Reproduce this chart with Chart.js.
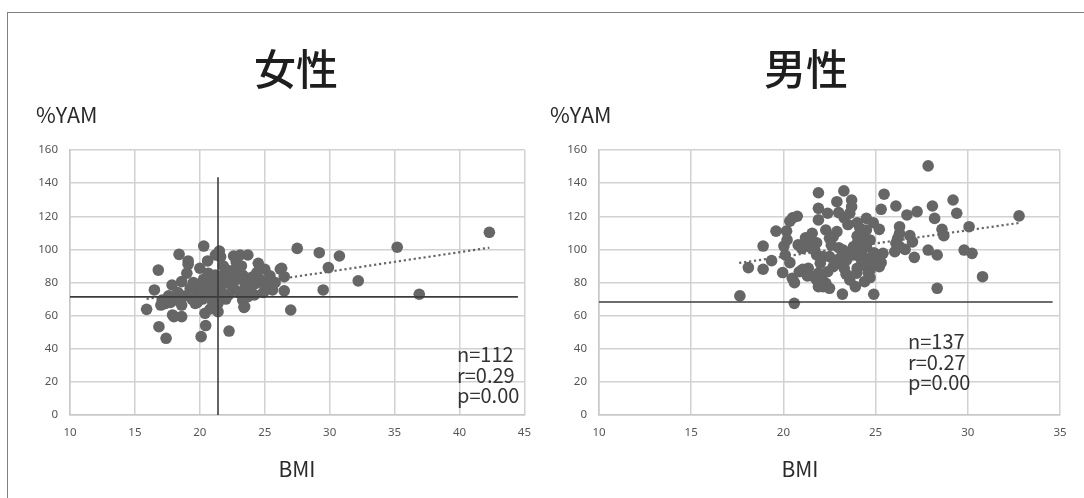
<!DOCTYPE html>
<html>
<head>
<meta charset="utf-8">
<script src="https://cdn.jsdelivr.net/npm/chart.js@4/dist/chart.umd.min.js"></script>
<style>
  body { margin: 0; background: #fff; font-family: "Noto Sans CJK JP", "Noto Sans", sans-serif; color: #222; }
  #page { position: relative; width: 1084px; height: 498px; overflow: hidden; }
  #frame { position: absolute; left: 7px; top: 12px; right: -10px; bottom: -10px; border-top: 1.5px solid #808080; border-left: 1.5px solid #808080; }
  canvas { position: absolute; top: 0; }
  .lbl { position: absolute; white-space: nowrap; }
  .title { font-size: 42px; font-weight: 500; top: 36px; transform: translateX(-50%); color: #1e1e1e; }
  .yam { font-size: 21.5px; top: 98px; color: #2a2a2a; }
  .bmi { font-size: 21px; top: 453px; transform: translateX(-50%); color: #2a2a2a; }
  .stats { font-size: 20px; line-height: 20.5px; color: #333; }
</style>
</head>
<body>
<div id="page">
  <div id="frame"></div>
  <canvas id="womenChart" width="542" height="498" style="left:0"></canvas>
  <canvas id="menChart" width="542" height="498" style="left:542px"></canvas>
  <div class="lbl title" style="left:296px">女性</div>
  <div class="lbl title" style="left:806px">男性</div>
  <div class="lbl yam" style="left:36px">%YAM</div>
  <div class="lbl yam" style="left:550px">%YAM</div>
  <div class="lbl bmi" style="left:297px">BMI</div>
  <div class="lbl bmi" style="left:800px">BMI</div>
  <div class="lbl stats" style="left:457px; top:344px">n=112<br>r=0.29<br>p=0.00</div>
  <div class="lbl stats" style="left:908px; top:331px">n=137<br>r=0.27<br>p=0.00</div>
</div>
<script>
// 女性: [BMI, %YAM]
const womenPoints = [
  [20.3,102],[18.4,97],[19.1,93],[19.1,91],[16.8,87.5],[21.2,96.6],[21.5,99],[21.6,95.5],[20.6,93],[22.6,96],
  [23.1,96.6],[23.7,96.6],[22.8,92.6],[24.5,91.6],[25.0,88],[26.2,88],[27.5,100.6],[29.2,98],[29.9,89],[29.5,75.5],
  [27.0,63.4],[26.5,75],[20.0,88.6],[19.0,85.6],[16.5,75.5],[15.9,63.8],[16.85,53.3],[17.4,46.3],[20.1,47.3],[20.45,54],
  [22.25,50.7],[17.9,60.4],[18.0,59.4],[20.4,61.4],[21.3,63.4],[23.4,65],[17.86,78.5],[18.6,80.5],[19.26,76.5],[17.1,69.4],
  [17.36,67.4],[17.74,68],[18.24,69.4],[18.6,66.4],[19.64,67.4],[19.9,73.5],[20.4,75.5],[20.65,78.5],[21.0,81.5],[20.9,71.4],
  [21.4,67.4],[21.9,85.6],[22.2,82.5],[22.4,78.5],[22.7,75.5],[23.07,73.5],[23.3,84.5],[23.7,82.5],[24.1,83.5],[24.3,79.5],
  [24.7,81.5],[25.0,78.5],[25.2,80.5],[25.6,75.5],[23.3,69.4],[23.7,71.4],[24.2,72.5],[23.45,65.4],[22.2,72.5],[21.67,78.5],
  [22.3,86.5],[20.65,85.6],[21.2,84.5],[19.9,75.5],[20.0,78.5],[18.6,59.4],[17.0,66.4],[21.4,62.4],[20.8,64],[30.75,96],
  [32.2,81],[35.2,101.3],[42.3,110.3],[36.9,72.9],[26.5,83.5],[26.3,88.6],[22.0,88],[18.9,72],[19.4,70],[19.8,68],
  [20.2,70],[20.6,73],[21.0,68],[21.1,75],[21.7,74],[22.0,70],[22.5,80],[22.9,82],[23.5,78],[23.9,76],
  [24.4,86],[24.9,74],[21.5,80],[20.3,82],[19.5,80],[18.3,74],[17.6,72],[21.8,90],[22.7,88],[23.2,90],
  [25.4,84],[25.8,80]
];
// 男性: [BMI, %YAM]
const menPoints = [
  [17.64,71.9],[18.1,89],[18.9,88],[18.9,102],[19.36,93.2],[19.6,111],[19.96,86],[20.03,102],[20.17,111],[20.2,105.7],
  [20.35,117],[20.5,119],[20.75,120],[20.1,96.6],[20.35,92],[20.8,102.7],[20.48,82.5],[20.6,79.9],[20.86,86.5],[20.59,67.4],
  [21.56,109.7],[21.35,88.6],[21.65,83.5],[21.8,81.5],[21.9,134.2],[21.9,124.8],[21.9,117.8],[21.7,99.6],[21.8,96.6],[23.28,135.3],
  [25.46,133.3],[22.9,128.8],[23.7,129.8],[23.7,125.8],[23.6,121.8],[23.0,122.2],[22.4,121.8],[25.3,124.2],[26.1,126.2],[26.7,120.8],
  [27.25,122.8],[28.08,126.2],[29.2,129.8],[29.4,121.8],[28.2,118.7],[28.6,112.1],[28.7,108.3],[30.07,113.7],[32.78,120.2],[29.8,99.6],
  [30.23,97.6],[27.85,99.6],[28.34,96.6],[27.1,95.2],[30.8,83.5],[28.34,76.5],[24.9,72.9],[23.2,73],[27.85,150.4],[26.3,113.7],
  [26.3,109.7],[26.2,106.7],[26.1,103.7],[26.04,98.6],[26.3,101.6],[26.6,100],[26.86,108.3],[27.0,104.5],[24.5,118.7],[24.87,116.1],
  [25.2,112.1],[24.5,111.7],[24.15,112.7],[25.4,97.6],[25.2,89.6],[25.05,94.6],[24.8,95.6],[24.4,80.5],[23.9,77.5],[23.6,81.5],
  [23.97,85.6],[21.0,100.5],[21.05,88],[21.2,107],[21.5,101],[22.0,81.5],[22.15,77.5],[22.3,79.5],[21.9,85.6],[21.3,84],
  [22.7,107.7],[22.9,110.7],[23.24,99.6],[23.43,93.6],[23.8,101.6],[23.8,96.6],[24.24,97.6],[24.24,90.6],[24.5,93.6],[24.7,87.5],
  [25.3,92],[23.06,91.6],[22.7,89.6],[22.15,95.6],[22.0,91.6],[22.3,111.7],[22.5,106.7],[23.3,119],[23.5,115],[24.0,116],
  [22.5,95.6],[22.8,92.6],[23.06,94.6],[23.3,88.5],[23.4,85],[23.65,97.5],[23.2,96],[23.0,101],[22.6,102.5],[22.1,84.5],
  [22.4,86.5],[21.35,105.7],[21.8,104],[24.0,108],[24.4,106],[24.0,103.7],[24.5,101.6],[24.7,105.7],[24.9,98],[25.0,91],
  [24.2,94.5],[24.0,88.5],[24.6,86],[22.5,76.5],[21.9,77.5],[24.7,83]
];

// regression lines (dotted)
const womenTrend = [[15.9,70.1],[42.3,101.0]];
const menTrend = [[17.6,91.8],[32.8,116.0]];

// reference lines
const womenRefYam = [[10,71.3],[44.5,71.3]];
const womenRefBmi = [[21.4,0],[21.4,143.5]];
const menRefYam = [[10,68.2],[34.6,68.2]];

const xTicksWomen = [10, 45];
const xTicksMen = [10, 35];
const yTicks = [0, 160];

function toXY(arr) {
  return arr.map(p => ({ x: p[0], y: p[1] }));
}

function lineSet(arr, dashed) {
  return {
    type: 'line',
    data: toXY(arr),
    borderColor: dashed ? '#666' : '#3c3c3c',
    borderWidth: dashed ? 2.2 : 1.6,
    borderDash: dashed ? [2.2, 2.8] : [],
    pointRadius: 0,
    fill: false,
    showLine: true
  };
}

function makeChart(id, points, lines, xRange, padLeft, padRight) {
  const ctx = document.getElementById(id).getContext('2d');
  const datasets = lines.concat([{
    type: 'scatter',
    data: toXY(points),
    backgroundColor: '#666666',
    borderColor: '#666666',
    borderWidth: 0,
    pointRadius: 5.8
  }]);
  return new Chart(ctx, {
    type: 'scatter',
    data: { datasets: datasets },
    options: {
      responsive: false,
      animation: false,
      layout: { padding: { left: padLeft, right: padRight, top: 150, bottom: 53 } },
      plugins: { legend: { display: false }, tooltip: { enabled: false } },
      scales: {
        x: {
          type: 'linear',
          min: xRange[0], max: xRange[1],
          afterFit: s => { s.height = 30; },
          grid: { color: '#d2d2d2', lineWidth: 1.5, drawTicks: false },
          border: { color: '#c8c8c8', width: 1.5 },
          ticks: { stepSize: 5, padding: 11, color: '#555', font: { family: 'Noto Sans', size: 11.5 } }
        },
        y: {
          min: yTicks[0], max: yTicks[1],
          afterFit: s => { s.width = 40; },
          grid: { color: '#d2d2d2', lineWidth: 1.5, drawTicks: false },
          border: { color: '#c8c8c8', width: 1.5 },
          ticks: { stepSize: 20, padding: 12, color: '#555', font: { family: 'Noto Sans', size: 11.5 } }
        }
      }
    }
  });
}

makeChart('womenChart', womenPoints,
  [lineSet(womenRefBmi), lineSet(womenRefYam), lineSet(womenTrend, true)],
  xTicksWomen, 30, 12);
makeChart('menChart', menPoints,
  [lineSet(menRefYam), lineSet(menTrend, true)],
  xTicksMen, 17, 24);
</script>
</body>
</html>
